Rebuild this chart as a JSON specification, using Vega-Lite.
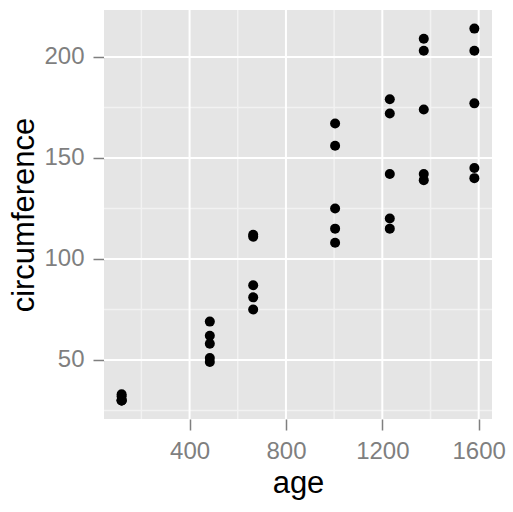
{
  "$schema": "https://vega.github.io/schema/vega-lite/v6.json",
  "width": 388,
  "height": 409,
  "autosize": {"type": "none"},
  "padding": {"left": 104, "top": 10, "right": 21, "bottom": 93},
  "background": "white",
  "view": {"fill": "#E5E5E5", "stroke": null},
  "config": {
    "font": "Liberation Sans",
    "axis": {
      "grid": false,
      "domain": false,
      "tickColor": "#7F7F7F",
      "tickSize": 11,
      "tickWidth": 1.5,
      "labelColor": "#7F7F7F",
      "labelFontSize": 24,
      "labelFont": "Liberation Sans",
      "labelPadding": 9,
      "format": "d",
      "titleColor": "black",
      "titleFontSize": 31,
      "titleFont": "Liberation Sans",
      "titleFontWeight": "normal"
    }
  },
  "datasets": {
    "xminor": [{"v": 200}, {"v": 600}, {"v": 1000}, {"v": 1400}],
    "xmajor": [{"v": 400}, {"v": 800}, {"v": 1200}, {"v": 1600}],
    "yminor": [{"v": 25}, {"v": 75}, {"v": 125}, {"v": 175}],
    "ymajor": [{"v": 50}, {"v": 100}, {"v": 150}, {"v": 200}],
    "orange": [
      {"Tree": "1", "age": 118, "circumference": 30},
      {"Tree": "1", "age": 484, "circumference": 58},
      {"Tree": "1", "age": 664, "circumference": 87},
      {"Tree": "1", "age": 1004, "circumference": 115},
      {"Tree": "1", "age": 1231, "circumference": 120},
      {"Tree": "1", "age": 1372, "circumference": 142},
      {"Tree": "1", "age": 1582, "circumference": 145},
      {"Tree": "2", "age": 118, "circumference": 33},
      {"Tree": "2", "age": 484, "circumference": 69},
      {"Tree": "2", "age": 664, "circumference": 111},
      {"Tree": "2", "age": 1004, "circumference": 156},
      {"Tree": "2", "age": 1231, "circumference": 172},
      {"Tree": "2", "age": 1372, "circumference": 203},
      {"Tree": "2", "age": 1582, "circumference": 203},
      {"Tree": "3", "age": 118, "circumference": 30},
      {"Tree": "3", "age": 484, "circumference": 51},
      {"Tree": "3", "age": 664, "circumference": 75},
      {"Tree": "3", "age": 1004, "circumference": 108},
      {"Tree": "3", "age": 1231, "circumference": 115},
      {"Tree": "3", "age": 1372, "circumference": 139},
      {"Tree": "3", "age": 1582, "circumference": 140},
      {"Tree": "4", "age": 118, "circumference": 32},
      {"Tree": "4", "age": 484, "circumference": 62},
      {"Tree": "4", "age": 664, "circumference": 112},
      {"Tree": "4", "age": 1004, "circumference": 167},
      {"Tree": "4", "age": 1231, "circumference": 179},
      {"Tree": "4", "age": 1372, "circumference": 209},
      {"Tree": "4", "age": 1582, "circumference": 214},
      {"Tree": "5", "age": 118, "circumference": 30},
      {"Tree": "5", "age": 484, "circumference": 49},
      {"Tree": "5", "age": 664, "circumference": 81},
      {"Tree": "5", "age": 1004, "circumference": 125},
      {"Tree": "5", "age": 1231, "circumference": 142},
      {"Tree": "5", "age": 1372, "circumference": 174},
      {"Tree": "5", "age": 1582, "circumference": 177}
    ]
  },
  "layer": [
    {
      "data": {"name": "xminor"},
      "mark": {"type": "rule", "color": "#F2F2F2", "strokeWidth": 1.5},
      "encoding": {"x": {"field": "v", "type": "quantitative", "scale": {"domain": [44.8, 1655.2], "nice": false, "zero": false}, "axis": {"values": [400, 800, 1200, 1600], "title": "age", "titlePadding": 5}}}
    },
    {
      "data": {"name": "yminor"},
      "mark": {"type": "rule", "color": "#F2F2F2", "strokeWidth": 1.5},
      "encoding": {"y": {"field": "v", "type": "quantitative", "scale": {"domain": [20.8, 223.2], "nice": false, "zero": false}, "axis": {"values": [50, 100, 150, 200], "title": "circumference", "titlePadding": 3}}}
    },
    {
      "data": {"name": "xmajor"},
      "mark": {"type": "rule", "color": "white", "strokeWidth": 2},
      "encoding": {"x": {"field": "v", "type": "quantitative", "scale": {"domain": [44.8, 1655.2], "nice": false, "zero": false}, "axis": {"values": [400, 800, 1200, 1600], "title": "age", "titlePadding": 5}}}
    },
    {
      "data": {"name": "ymajor"},
      "mark": {"type": "rule", "color": "white", "strokeWidth": 2},
      "encoding": {"y": {"field": "v", "type": "quantitative", "scale": {"domain": [20.8, 223.2], "nice": false, "zero": false}, "axis": {"values": [50, 100, 150, 200], "title": "circumference", "titlePadding": 3}}}
    },
    {
      "data": {"name": "orange"},
      "mark": {"type": "circle", "color": "black", "opacity": 1, "size": 100},
      "encoding": {
        "x": {
          "field": "age", "type": "quantitative",
          "scale": {"domain": [44.8, 1655.2], "nice": false, "zero": false},
          "axis": {"values": [400, 800, 1200, 1600], "title": "age", "titlePadding": 5}
        },
        "y": {
          "field": "circumference", "type": "quantitative",
          "scale": {"domain": [20.8, 223.2], "nice": false, "zero": false},
          "axis": {"values": [50, 100, 150, 200], "title": "circumference", "titlePadding": 3}
        }
      }
    }
  ]
}
